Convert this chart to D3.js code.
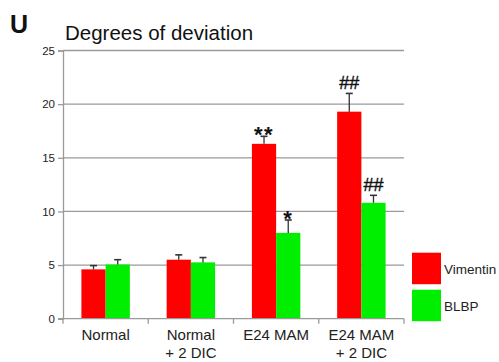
<!DOCTYPE html>
<html>
<head>
<meta charset="utf-8">
<script src="https://cdn.jsdelivr.net/npm/d3@7"></script>
<style>
  body { margin: 0; background: #fff; }
  text { font-family: "Liberation Sans", Arial, sans-serif; }
</style>
</head>
<body>
<script>
// data
let categories = [["Normal"], ["Normal", "+ 2 DIC"], ["E24 MAM"], ["E24 MAM", "+ 2 DIC"]]
let seriesNames = ["Vimentin", "BLBP"]
let colors = ["#ff0000", "#00ee00"]
let vimentin = [4.6, 5.5, 16.3, 19.3]
let vimentinErr = [0.35, 0.45, 0.7, 1.7]
let blbp = [5.05, 5.25, 8.0, 10.8]
let blbpErr = [0.45, 0.45, 1.2, 0.7]
let vimentinMarks = ["", "", "**", "##"]
let blbpMarks = ["", "", "*", "##"]
let yTicks = [0, 5, 10, 15, 20, 25]

let width = 499
let height = 362
let margin = {left: 63, right: 95, top: 50.5, bottom: 43.3}

let svg = d3.select("body").append("svg")
    .attr("width", width)
    .attr("height", height)

let x = d3.scaleBand()
    .domain(d3.range(categories.length))
    .range([margin.left, width - margin.right])

// two bars side by side, centred in each category
let xInner = d3.scaleBand()
    .domain(seriesNames)
    .range([0, x.bandwidth()])
    .paddingInner(0)
    .paddingOuter(0.76)

let y = d3.scaleLinear()
    .domain([0, 25])
    .range([height - margin.bottom, margin.top])

// grid lines
svg.append("g")
    .selectAll("line")
    .data(yTicks.slice(1))
    .enter()
    .append("line")
        .attr("x1", margin.left)
        .attr("x2", width - margin.right)
        .attr("y1", d => y(d))
        .attr("y2", d => y(d))
        .attr("stroke", "#9a9a9a")
        .attr("stroke-width", 1.3)

// bars
let series = [
    {name: "Vimentin", values: vimentin, err: vimentinErr, marks: vimentinMarks, color: colors[0]},
    {name: "BLBP", values: blbp, err: blbpErr, marks: blbpMarks, color: colors[1]}
]

series.forEach(s => {
    let g = svg.append("g")
    let items = s.values.map((v, i) => ({i: i, v: v, e: s.err[i], m: s.marks[i]}))
    g.selectAll("rect")
        .data(items)
        .enter()
        .append("rect")
            .attr("x", d => x(d.i) + xInner(s.name))
            .attr("width", xInner.bandwidth())
            .attr("y", d => y(d.v))
            .attr("height", d => y(0) - y(d.v))
            .attr("fill", s.color)

    let cx = d => x(d.i) + xInner(s.name) + xInner.bandwidth() / 2
    g.selectAll("line.err")
        .data(items)
        .enter()
        .append("line")
            .attr("x1", cx).attr("x2", cx)
            .attr("y1", d => y(d.v))
            .attr("y2", d => y(d.v + d.e))
            .attr("stroke", "#333")
            .attr("stroke-width", 1.3)
    g.selectAll("line.cap")
        .data(items)
        .enter()
        .append("line")
            .attr("x1", d => cx(d) - 3.5).attr("x2", d => cx(d) + 3.5)
            .attr("y1", d => y(d.v + d.e))
            .attr("y2", d => y(d.v + d.e))
            .attr("stroke", "#333")
            .attr("stroke-width", 1.6)
    g.selectAll("text")
        .data(items.filter(d => d.m))
        .enter()
        .append("text")
            .attr("x", cx)
            .attr("y", d => y(d.v + d.e) - 4)
            .attr("text-anchor", "middle")
            .attr("font-size", d => d.m[0] == "*" ? 22 : 18)
            .attr("font-weight", d => d.m[0] == "*" ? "bold" : "normal")
            .attr("letter-spacing", d => d.m[0] == "*" ? 1.5 : 0)
            .attr("dy", d => d.m[0] == "*" ? "0.45em" : 0)
            .attr("stroke", d => d.m[0] == "#" ? "#111" : "none")
            .attr("stroke-width", 0.4)
            .attr("fill", "#111")
            .text(d => d.m)
})

// y axis
let yAxis = svg.append("g")
    .attr("transform", `translate(${margin.left},0)`)
    .call(d3.axisLeft(y).tickValues(yTicks).tickSize(5).tickPadding(3))
yAxis.select(".domain").attr("stroke", "#9a9a9a").attr("stroke-width", 1.3)
yAxis.selectAll(".tick line").attr("stroke", "#9a9a9a").attr("stroke-width", 1.3)
yAxis.selectAll(".tick text")
    .attr("font-size", 11.5)
    .attr("fill", "#222")
    .attr("font-family", "Liberation Sans, Arial, sans-serif")

// x axis
let xg = svg.append("g")
    .attr("transform", `translate(0,${y(0)})`)
xg.append("line")
    .attr("x1", margin.left - 5).attr("x2", width - margin.right)
    .attr("stroke", "#9a9a9a").attr("stroke-width", 1.3)
xg.selectAll("line.sep")
    .data(d3.range(categories.length + 1))
    .enter()
    .append("line")
        .attr("x1", d => margin.left + d * x.step())
        .attr("x2", d => margin.left + d * x.step())
        .attr("y1", 0).attr("y2", 5)
        .attr("stroke", "#9a9a9a").attr("stroke-width", 1.3)
let labels = xg.selectAll("text")
    .data(categories)
    .enter()
    .append("text")
        .attr("text-anchor", "middle")
        .attr("font-size", 15)
        .attr("fill", "#222")
labels.selectAll("tspan")
    .data((d, i) => d.map(t => ({t: t, i: i})))
    .enter()
    .append("tspan")
        .attr("x", d => x(d.i) + x.bandwidth() / 2)
        .attr("y", (d, j) => 21 + j * 18)
        .text(d => d.t)

// title
svg.append("text")
    .attr("x", 10).attr("y", 33)
    .attr("font-size", 25).attr("font-weight", "bold")
    .attr("fill", "#111")
    .text("U")
svg.append("text")
    .attr("x", 65).attr("y", 39.5)
    .attr("font-size", 20.5)
    .attr("fill", "#111")
    .text("Degrees of deviation")

// legend
let legend = svg.append("g")
    .selectAll("g")
    .data(seriesNames)
    .enter()
    .append("g")
        .attr("transform", (d, i) => `translate(412,${252.7 + i * 37})`)
legend.append("rect")
    .attr("width", 29).attr("height", 31.5)
    .attr("fill", (d, i) => colors[i])
legend.append("text")
    .attr("x", 32).attr("y", 21)
    .attr("font-size", 13.5)
    .attr("fill", "#222")
    .text(d => d)
</script>
</body>
</html>
